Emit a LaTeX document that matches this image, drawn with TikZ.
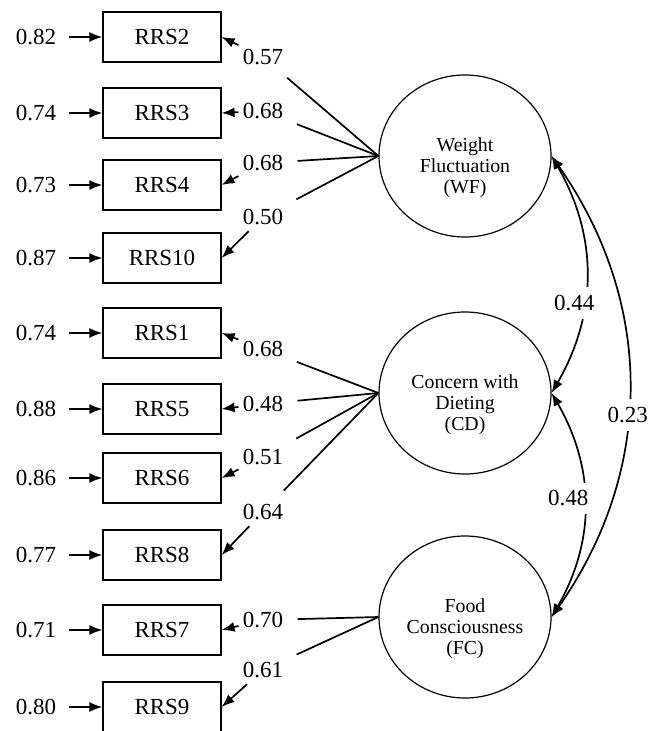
\documentclass[tikz,border=0pt]{standalone}
\usepackage{fontspec}
\setmainfont{Liberation Serif}
\usetikzlibrary{calc,arrows.meta,shapes.geometric}

\tikzset{
  item/.style={draw, line width=0.6pt, rectangle, minimum width=59pt,
    minimum height=25pt, inner sep=0pt, font=\fontsize{11.5}{13}\selectfont},
  err/.style={inner xsep=6pt, inner ysep=2pt, font=\fontsize{11.5}{13}\selectfont},
  load/.style={inner xsep=2pt, inner ysep=3pt, font=\fontsize{11.5}{13}\selectfont},
  coef/.style={fill=white, inner xsep=1pt, inner ysep=4pt, font=\fontsize{11.5}{13}\selectfont},
  factor/.style={draw, line width=0.6pt, ellipse, minimum width=86pt,
    minimum height=81pt, inner sep=0pt},
  factor text/.style={align=center, font=\fontsize{9.9}{10.5}\selectfont, yshift=-6pt},
  link/.style={line width=0.85pt},
  arr/.style={link, -{Latex[length=6.5pt,width=5pt]}},
  corr/.style={link, {Latex[length=6.5pt,width=5pt]}-{Latex[length=6.5pt,width=5pt]}}
}

\begin{document}
\begin{tikzpicture}[x=0.5pt,y=-0.5pt]
  \useasboundingbox (0,0) rectangle (659,731);

  % observed items with their error terms
  \foreach \n/\y/\e in {2/37/0.82, 3/113/0.74, 4/185/0.73, 10/258/0.87,
      1/333/0.74, 5/409/0.88, 6/478/0.86, 8/555/0.77, 7/630/0.71, 9/707/0.80}
  {
    \node[item] (rrs\n) at (162,\y) {RRS\n};
    \node[err] (e\n) at (36,\y) {\e};
    \draw[arr] (e\n) -- (rrs\n);
  }

  % latent factors
  \node[factor, label={[factor text, name=wft]center:{Weight\\Fluctuation\\(WF)}}] (wf) at (465,156) {};
  \node[factor, label={[factor text, name=cdt]center:{Concern with\\Dieting\\(CD)}}] (cd) at (465,393) {};
  \node[factor, label={[factor text, name=fct]center:{Food\\Consciousness\\(FC)}}] (fc) at (465,617) {};

  % loadings
  \foreach \f/\n/\y/\v in {wf/2/57/0.57, wf/3/111/0.68, wf/4/163/0.68, wf/10/217/0.50,
      cd/1/349/0.68, cd/5/404/0.48, cd/6/457/0.51, cd/8/512/0.64,
      fc/7/620/0.70, fc/9/670/0.61}
  {
    \node[load] (l\n) at (263,\y) {\v};
    \draw[link, shorten >=5pt] (\f.west) -- (l\n);
    \draw[arr] (l\n) -- (rrs\n.east);
  }

  % factor correlations
  \draw[corr] (wf.east) to[bend left=30] node[coef, pos=0.62, xshift=-5pt] (r1) {0.44} (cd.east);
  \draw[corr] (cd.east) to[bend left=30] node[coef, pos=0.47, xshift=-8pt] (r2) {0.48} (fc.east);
  \draw[corr] (wf.east) to[bend left=35] node[coef, pos=0.56] (r3) {0.23} (fc.east);

\end{tikzpicture}
\end{document}
